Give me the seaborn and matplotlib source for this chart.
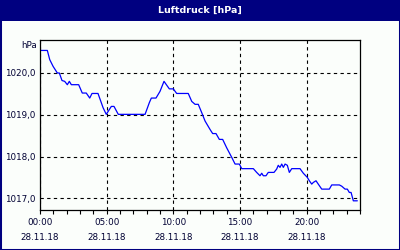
import matplotlib
matplotlib.use("Agg")
import matplotlib.pyplot as plt
from matplotlib.patches import Rectangle
from matplotlib.ticker import MultipleLocator, FixedLocator
import seaborn as sns
import pandas as pd

# ---- data (hours since 00:00 on 28.11.18, pressure in hPa) ----
hours = [0.05, 0.55, 0.73, 0.98, 1.30, 1.45, 1.65, 1.85, 2.05, 2.20, 2.35, 2.90,
         3.17, 3.47, 3.73, 3.90, 4.35, 4.73, 4.97, 5.35, 5.55, 5.87, 7.88, 8.20,
         8.35, 8.70, 9.00, 9.30, 9.70, 10.00, 10.25, 11.12, 11.38, 11.63, 11.87,
         12.13, 12.38, 12.75, 12.95, 13.20, 13.45, 13.70, 14.00, 14.38, 14.63,
         14.95, 15.13, 16.00, 16.25, 16.50, 16.63, 16.75, 16.95, 17.12, 17.55,
         17.75, 17.87, 18.00, 18.13, 18.25, 18.38, 18.55, 18.70, 18.88, 19.50,
         19.75, 20.05, 20.20, 20.38, 20.50, 20.70, 20.87, 21.13, 21.70, 21.88,
         22.45, 22.63, 22.88, 23.05, 23.20, 23.33, 23.50, 23.80]
pressure = [1020.54, 1020.54, 1020.32, 1020.16, 1020.00, 1020.00, 1019.82, 1019.80,
            1019.72, 1019.80, 1019.72, 1019.72, 1019.52, 1019.52, 1019.40, 1019.51,
            1019.51, 1019.17, 1019.01, 1019.20, 1019.20, 1019.01, 1019.01, 1019.29,
            1019.40, 1019.40, 1019.56, 1019.80, 1019.62, 1019.62, 1019.51, 1019.51,
            1019.32, 1019.25, 1019.25, 1019.05, 1018.85, 1018.65, 1018.55, 1018.55,
            1018.41, 1018.41, 1018.21, 1017.98, 1017.82, 1017.82, 1017.71, 1017.71,
            1017.62, 1017.54, 1017.60, 1017.54, 1017.54, 1017.62, 1017.62, 1017.70,
            1017.79, 1017.74, 1017.82, 1017.74, 1017.82, 1017.79, 1017.62, 1017.71,
            1017.71, 1017.60, 1017.50, 1017.42, 1017.34, 1017.38, 1017.42, 1017.34,
            1017.22, 1017.22, 1017.32, 1017.32, 1017.29, 1017.22, 1017.22, 1017.14,
            1017.14, 1016.94, 1016.94]

x_ticks = [0, 5, 10, 15, 20]
x_tick_labels = ["00:00\n28.11.18", "05:00\n28.11.18", "10:00\n28.11.18",
                 "15:00\n28.11.18", "20:00\n28.11.18"]
y_ticks = [1017, 1018, 1019, 1020]
y_tick_labels = ["1017,0", "1018,0", "1019,0", "1020,0"]
title = "Luftdruck [hPa]"
unit = "hPa"

df = pd.DataFrame({"hours": hours, "pressure": pressure})

sns.set_style("white")
plt.rcParams["font.family"] = ["DejaVu Sans"]

NAVY = "#000080"
TXT = "#000033"

fig = plt.figure(figsize=(4, 2.5), dpi=100, facecolor="#fbfefb")
# frame and title bar
fig.patches.append(Rectangle((0, 0), 1, 1, transform=fig.transFigure,
                             fill=False, edgecolor=NAVY, linewidth=2.2, zorder=0))
fig.patches.append(Rectangle((0, 1 - 20.5 / 250), 1, 20.5 / 250, transform=fig.transFigure,
                             facecolor=NAVY, edgecolor="none", zorder=1))
fig.text(0.5, 1 - 10.5 / 250, title, color="white", ha="center", va="center",
         fontsize=6.8, fontweight="bold")

ax = fig.add_axes([40 / 400, 1 - 210 / 250, 320 / 400, 170 / 250])
ax.set_facecolor("#fbfefb")
sns.lineplot(data=df, x="hours", y="pressure", ax=ax, color="#0000ff",
             linewidth=0.9, estimator=None, sort=False)

ax.set_xlim(0, 24)
ax.set_ylim(1016.72, 1020.79)
ax.xaxis.set_major_locator(FixedLocator(x_ticks))
ax.set_xticklabels(x_tick_labels)
ax.xaxis.set_minor_locator(MultipleLocator(1))
ax.set_yticks(y_ticks)
ax.set_yticklabels(y_tick_labels)

ax.tick_params(axis="x", which="both", direction="out", length=3, width=0.8,
               color="black", labelsize=6.3, labelcolor=TXT, pad=3, bottom=True)
ax.tick_params(axis="y", which="both", length=0, labelsize=6.3, labelcolor=TXT, pad=3)
for lab in ax.get_xticklabels():
    lab.set_linespacing(1.75)

ax.grid(True, which="major", color="black", linestyle=(0, (3, 3)), linewidth=0.8)
for s in ax.spines.values():
    s.set_visible(True)
    s.set_color("black")
    s.set_linewidth(0.9)

ax.set_xlabel("")
ax.set_ylabel("")
ax.text(-0.01, 0.97, unit, transform=ax.transAxes, ha="right", va="center",
        fontsize=6.3, color=TXT)

fig.savefig("out.png", dpi=100, facecolor=fig.get_facecolor())
